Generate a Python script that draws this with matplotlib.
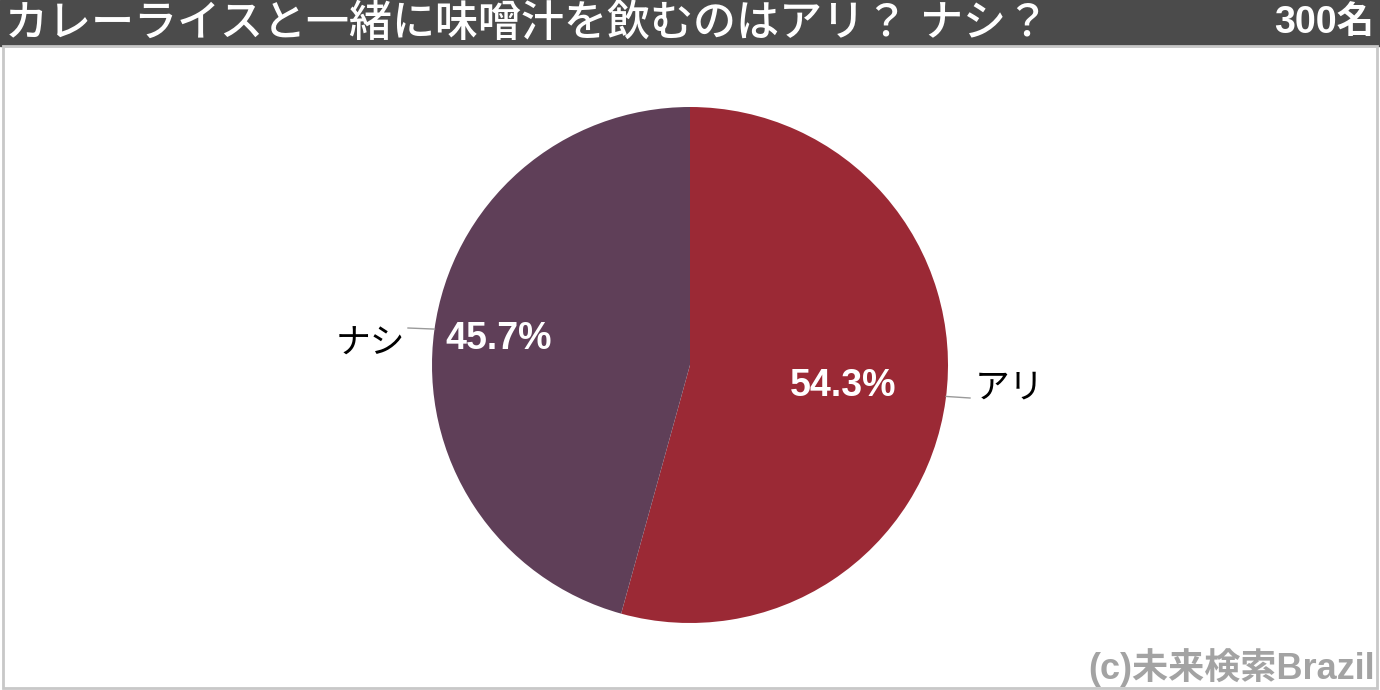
import numpy as np
import matplotlib.pyplot as plt
from matplotlib.patches import Rectangle

plt.rcParams['font.family'] = ['Liberation Sans', 'Noto Sans CJK JP', 'DejaVu Sans']

# データ
title = 'カレーライスと一緒に味噌汁を飲むのはアリ？ ナシ？'
n_label = '300名'
labels = ['アリ', 'ナシ']
values = [54.3, 45.7]
colors = ['#9b2935', '#5f3f58']
credit = '(c)未来検索Brazil'

W, H = 1380, 690
fig = plt.figure(figsize=(W / 100, H / 100), dpi=100)
ax = fig.add_axes([0, 0, 1, 1])

# タイトルバー
ax.add_patch(Rectangle((0, H - 46), W, 46, color='#4b4b4b', zorder=1))
ax.text(5, H - 25, title, color='white', fontsize=31, fontweight='medium',
        va='center', ha='left', zorder=3)
ax.text(W - 6, H - 23, n_label, color='white', fontsize=27, fontweight='bold',
        va='center', ha='right', zorder=3)

# 枠線
ax.add_patch(Rectangle((3, 2), W - 6, H - 48, fill=False, ec='#c8c8c8', lw=2, zorder=1))

# 円グラフ
cx, cy, r = 690, H - 365, 258
wedges, texts, autotexts = ax.pie(values, colors=colors, startangle=90, counterclock=False,
                                  center=(cx, cy), radius=r, autopct='%.1f%%',
                                  textprops=dict(color='white', fontsize=27, fontweight='bold'),
                                  wedgeprops=dict(linewidth=0), frame=True)
ax.set_xlim(0, W)
ax.set_ylim(0, H)
ax.set_aspect('equal')
ax.axis('off')

# パーセント位置
pct_dist = [0.6, 0.75]
for w, t, d in zip(wedges, autotexts, pct_dist):
    ang = np.deg2rad((w.theta1 + w.theta2) / 2)
    t.set_position((cx + d * r * np.cos(ang), cy + d * r * np.sin(ang)))
    t.set_va('center')
    t.set_ha('center')

# ラベルと引き出し線
anchor_ang = [-7, 172]
line_end = [(970, H - 398), (408, H - 328)]
text_pos = [(975, H - 388, 'left'), (405, H - 344, 'right')]
for lab, a, le, tp in zip(labels, anchor_ang, line_end, text_pos):
    a = np.deg2rad(a)
    x0, y0 = cx + r * np.cos(a), cy + r * np.sin(a)
    ax.plot([x0, le[0]], [y0, le[1]], color='#9a9a9a', lw=1, zorder=2)
    ax.text(tp[0], tp[1], lab, color='black', fontsize=25, ha=tp[2], va='center', zorder=3)

ax.text(W - 5, 22, credit, color='#a3a3a3', fontsize=26, fontweight='bold',
        ha='right', va='center', zorder=3)

fig.savefig('out.png', dpi=100)
